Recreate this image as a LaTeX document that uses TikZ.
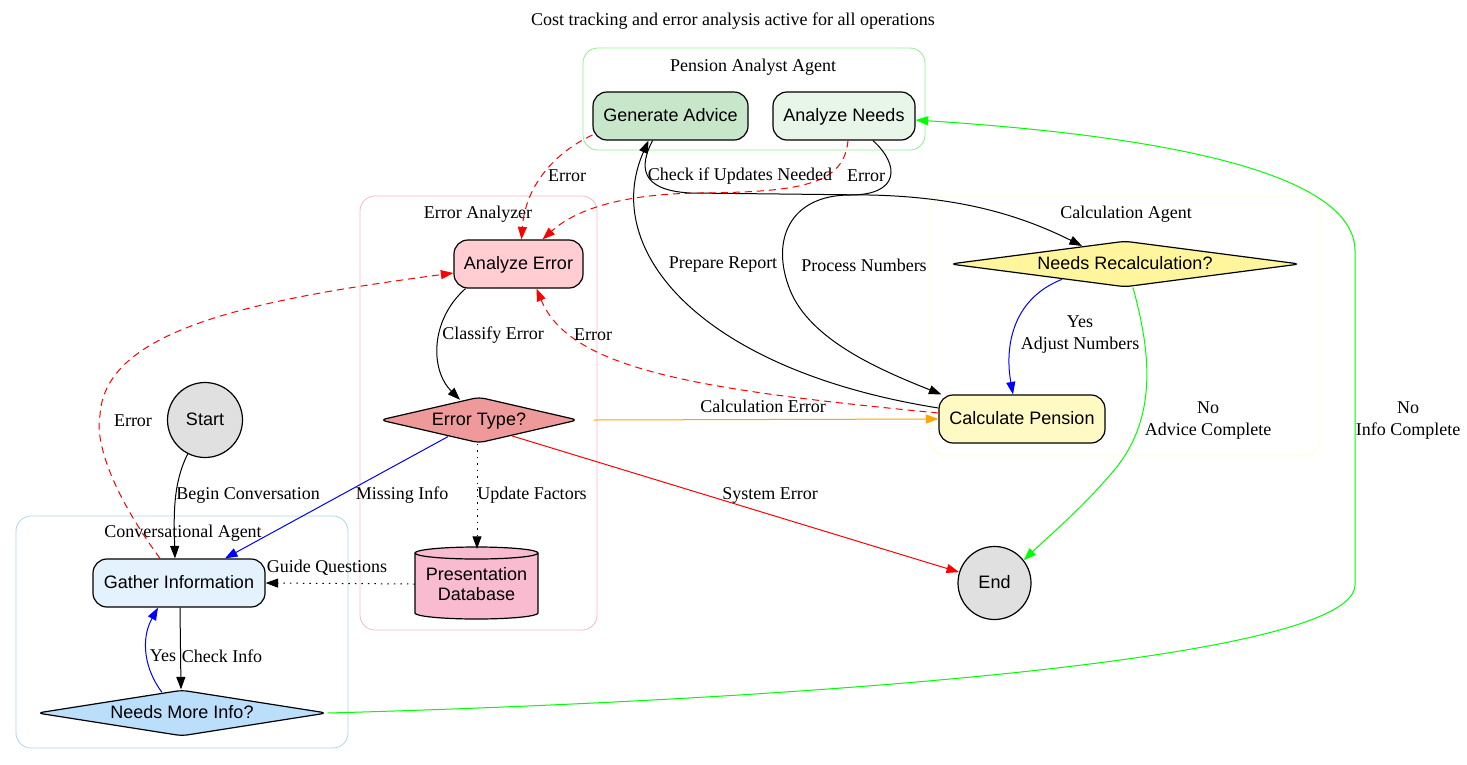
\documentclass[tikz,border=0pt]{standalone}
\usepackage{fontspec}
\setmainfont{Liberation Serif}
\newfontfamily\boxfont{Liberation Sans}
\usetikzlibrary{shapes.geometric,arrows.meta}

\definecolor{advicefill}{HTML}{C8E6C9}
\definecolor{needsfill}{HTML}{E8F5E9}
\definecolor{errfill}{HTML}{FFCDD2}
\definecolor{typefill}{HTML}{EF9A9A}
\definecolor{dbfill}{HTML}{F8BBD0}
\definecolor{recalcfill}{HTML}{FFF59D}
\definecolor{calcfill}{HTML}{FFF9C4}
\definecolor{gatherfill}{HTML}{E3F2FD}
\definecolor{morefill}{HTML}{BBDEFB}
\definecolor{termfill}{HTML}{E0E0E0}
\definecolor{clgreen}{HTML}{90EE90}
\definecolor{clpink}{HTML}{FFB6C1}
\definecolor{clyellow}{HTML}{FFFFD0}
\definecolor{clblue}{HTML}{ADD8E6}
\definecolor{okgreen}{HTML}{00FF00}
\definecolor{calcorange}{HTML}{FFA500}

\begin{document}
\begin{tikzpicture}[x=1pt,y=-1pt,
  every node/.style={inner sep=0pt},
  lbl/.style={font=\fontsize{18}{22}\selectfont, align=center},
  boxtext/.style={font=\boxfont\fontsize{18}{21}\selectfont, align=center},
  oneline/.style={boxtext, text height=13pt, text depth=3pt},
  box/.style={oneline, draw=black, line width=1.2pt, rounded corners=14pt, minimum height=48pt},
  dia/.style={oneline, diamond, draw=black, line width=1.2pt, rounded corners=6pt, minimum height=46pt},
  term/.style={oneline, circle, draw=black, line width=1.2pt, fill=termfill},
  cluster/.style={line width=0.8pt, rounded corners=15pt},
  edge/.style={line width=1pt, -{Triangle[length=12.5pt,width=9pt]}},
  errline/.style={edge, red, dash pattern=on 7pt off 5pt},
  dotline/.style={edge, black, dash pattern=on 1.5pt off 5pt},
]
\useasboundingbox (0,0) rectangle (1467,764);
\fill[white] (0,0) rectangle (1467,764);

% title
\node[lbl] (title) at (733,21) {Cost tracking and error analysis active for all operations};

% agent clusters
\draw[cluster, draw=clgreen] (583,48) rectangle (925,150);
\node[lbl] (pensionlbl) at (753,67) {Pension Analyst Agent};
\draw[cluster, draw=clpink] (360,196) rectangle (597,630);
\node[lbl] (errorlbl) at (478,214) {Error Analyzer};
\draw[cluster, draw=clyellow] (930,196) rectangle (1320,455);
\node[lbl] (calclbl) at (1126,214) {Calculation Agent};
\draw[cluster, draw=clblue] (16,516) rectangle (348,748);
\node[lbl] (convlbl) at (183,533) {Conversational Agent};

% database cylinder
\filldraw[fill=dbfill, draw=black, line width=1.2pt]
  (415,553) -- (415,613) arc[start angle=180, end angle=360, x radius=61.5pt, y radius=6pt]
  -- (538,553) arc[start angle=0, end angle=180, x radius=61.5pt, y radius=6pt] -- cycle;
\draw[line width=1.2pt] (415,553) arc[start angle=180, end angle=360, x radius=61.5pt, y radius=6pt];

% nodes
\node[box, fill=advicefill, minimum width=155pt] (advice) at (670.5,116) {Generate Advice};
\node[box, fill=needsfill, minimum width=142pt] (analyze) at (844,116) {Analyze Needs};
\node[box, fill=errfill, minimum width=129pt] (err) at (518.5,264) {Analyze Error};
\node[dia, fill=typefill, minimum width=198pt, aspect=4.3] (etype) at (479,420) {Error Type?};
\node[boxtext, minimum width=123pt, minimum height=72pt] (db) at (476.5,584) {Presentation\\[-1pt]Database};
\node[dia, fill=recalcfill, minimum width=350pt, aspect=7.6] (recalc) at (1125,264) {Needs Recalculation?};
\node[box, fill=calcfill, minimum width=166pt] (calc) at (1022,419) {Calculate Pension};
\node[term, minimum size=75pt] (start) at (205,420) {Start};
\node[term, minimum size=73pt] (finish) at (994.5,583) {End};
\node[box, fill=gatherfill, minimum width=172pt] (gather) at (179,583) {Gather Information};
\node[dia, fill=morefill, minimum width=290pt, aspect=6.3] (needsmore) at (182,713) {Needs More Info?};

% connectors
\draw[edge] (start.243) .. controls (172,485) and (174,520) .. ([xshift=-4pt]gather.north);
\draw[edge] ([xshift=1pt]gather.south) -- ([xshift=-1pt]needsmore.north);
\draw[edge, blue] ([xshift=-20pt,yshift=-3pt]needsmore.north) .. controls (145,670) and (140,640) .. ([xshift=-21pt]gather.south);
\draw[edge, okgreen] (needsmore.east) .. controls (800,700) and (1355,660) .. (1355,585)
  -- (1355,251) .. controls (1355,170) and (1150,135) .. ([yshift=-4pt]analyze.east);
\draw[edge] ([xshift=29pt]analyze.south) .. controls (900,165) and (900,195) .. (850,195)
  .. controls (790,195) and (770,240) .. (790,290) .. controls (810,340) and (880,370) .. ([xshift=3pt]calc.north west);
\draw[edge] ([yshift=11pt]calc.west) .. controls (700,370) and (600,250) .. ([xshift=-22pt]advice.south);
\draw[edge] ([xshift=-18pt]advice.south) .. controls (640,165) and (638,190) .. (690,193)
  -- (870,195) .. controls (960,197) and (1020,215) .. ([xshift=-43pt,yshift=-5.5pt]recalc.north);
\draw[edge, blue] ([xshift=-63pt,yshift=8.3pt]recalc.south) .. controls (1010,300) and (1005,350) .. ([xshift=-9pt]calc.north);
\draw[edge, okgreen] ([xshift=8pt]recalc.south) .. controls (1150,350) and (1160,420) .. (1110,475)
  .. controls (1080,510) and (1050,535) .. (finish.38);

\draw[errline] ([xshift=-19pt]gather.north) .. controls (110,490) and (95,440) .. (100,415)
  .. controls (105,330) and (250,300) .. ([yshift=-9pt]err.west);
\draw[errline] ([xshift=4pt]analyze.south) .. controls (844,185) and (800,192) .. (700,193)
  .. controls (620,194) and (575,210) .. ([xshift=24pt]err.north);
\draw[errline] ([yshift=-19pt]advice.west) .. controls (550,155) and (525,190) .. ([xshift=3pt]err.north);
\draw[errline] ([yshift=6pt]calc.west) .. controls (700,390) and (570,370) .. ([xshift=18pt]err.south);

\draw[edge] ([xshift=-53pt]err.south) .. controls (430,320) and (430,370) .. ([xshift=-19pt,yshift=-3.4pt]etype.north);
\draw[edge, calcorange] ([xshift=15pt]etype.east) -- (calc.west);
\draw[edge, blue] ([xshift=-31pt,yshift=7pt]etype.south) -- ([xshift=46pt]gather.north);
\draw[edge, red] ([xshift=33pt,yshift=7.7pt]etype.south) -- (finish.163);
\draw[dotline] ([xshift=-2pt]etype.south) -- ([xshift=0.5pt,yshift=-1pt]db.north);
\draw[dotline] (db.west) -- (gather.east);

% connector labels
\node[lbl] (lbegin) at (248,495) {Begin Conversation};
\node[lbl] (lcheck) at (222,656) {Check Info};
\node[lbl] (lyes) at (163,656) {Yes};
\node[lbl] (linfo) at (1408,421) {No\\Info Complete};
\node[lbl] (lprocess) at (864,265) {Process Numbers};
\node[lbl] (lreport) at (723,265) {Prepare Report};
\node[lbl] (lupdates) at (740,176) {Check if Updates Needed};
\node[lbl] (ladjust) at (1080,335) {Yes\\Adjust Numbers};
\node[lbl] (ladvice) at (1208,421) {No\\Advice Complete};
\node[lbl] (lerr1) at (133,421) {Error};
\node[lbl] (lerr2) at (866,176) {Error};
\node[lbl] (lerr3) at (567,176) {Error};
\node[lbl] (lerr4) at (593,335) {Error};
\node[lbl] (lclassify) at (493,335) {Classify Error};
\node[lbl] (lcalcerr) at (763,406) {Calculation Error};
\node[lbl] (lmissing) at (402,495) {Missing Info};
\node[lbl] (lsystem) at (770,495) {System Error};
\node[lbl] (lfactors) at (532,495) {Update Factors};
\node[lbl] (lguide) at (327,568) {Guide Questions};
\end{tikzpicture}
\end{document}
